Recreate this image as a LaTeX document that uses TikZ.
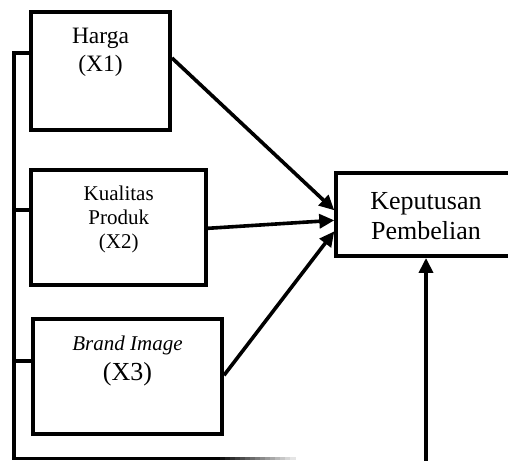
\documentclass[tikz,border=0pt]{standalone}
\usepackage{fontspec}
\setmainfont{Liberation Serif}
\usetikzlibrary{arrows.meta,positioning}

\tikzset{
  box/.style={draw, rectangle, line width=4pt, inner sep=0pt},
  lbl/.style={align=center, inner sep=0pt, anchor=north},
  link/.style={line width=3.6pt, -{Triangle[length=15pt,width=14pt]}},
  bus/.style={line width=3.2pt},
}

\begin{document}
\begin{tikzpicture}[x=1pt,y=-1pt]
\clip (0,0) rectangle (508,460);

% Variabel X
\node[box, minimum width=139pt, minimum height=118.5pt] (harga) at (100.5,71) {};
\node[lbl, font=\fontsize{23.5}{28}\selectfont] (hargaT) at (100.5,28) {Harga\\(X1)};

\node[box, minimum width=174.7pt, minimum height=115pt] (kualitas) at (118.7,227.8) {};
\node[lbl, font=\fontsize{21}{24}\selectfont] (kualitasT) at (118.7,185.5) {Kualitas\\Produk\\(X2)};

\node[box, minimum width=189pt, minimum height=115pt] (brand) at (127.5,376.3) {};
\node[lbl, font=\fontsize{21}{30}\selectfont] (brandT) at (127.5,336) {\textit{Brand Image}\\\fontsize{26}{30}\selectfont(X3)};

% Variabel Y
\node[box, minimum width=179.4pt, minimum height=83.3pt] (kep) at (426,214.3) {};
\node[lbl, font=\fontsize{26}{30}\selectfont] (kepT) at (426,192) {Keputusan\\Pembelian};

% Panah
\draw[link] ([yshift=13pt]harga.east) -- ([yshift=4pt]kep.west);
\draw[link] ([yshift=-0.5pt]kualitas.east) -- ([yshift=-6pt]kep.west);
\draw[link] ([yshift=1pt]brand.east) -- ([yshift=-17pt]kep.west);

% Garis simultan
\coordinate (busTop) at (14,53);
\coordinate (busBot) at (14,458.5);
\coordinate (busEnd) at (215,458.5);
\coordinate (simul) at (426,462);
\coordinate (stubK) at ([yshift=17.8pt]kualitas.west);
\coordinate (stubB) at ([yshift=15.3pt]brand.west);
\draw[bus] (harga.west |- busTop) -- (busTop) -- (busBot) -- (busEnd);
\draw[bus] (stubK) -- (busTop |- stubK);
\draw[bus] (stubB) -- (busTop |- stubB);
\foreach \i in {0,...,15} {
    \draw[bus, black!\the\numexpr100-6*\i\relax] (215+5*\i,458.5) -- (220.5+5*\i,458.5);
}
\draw[link] (simul) -- (kep.south);
\end{tikzpicture}
\end{document}
